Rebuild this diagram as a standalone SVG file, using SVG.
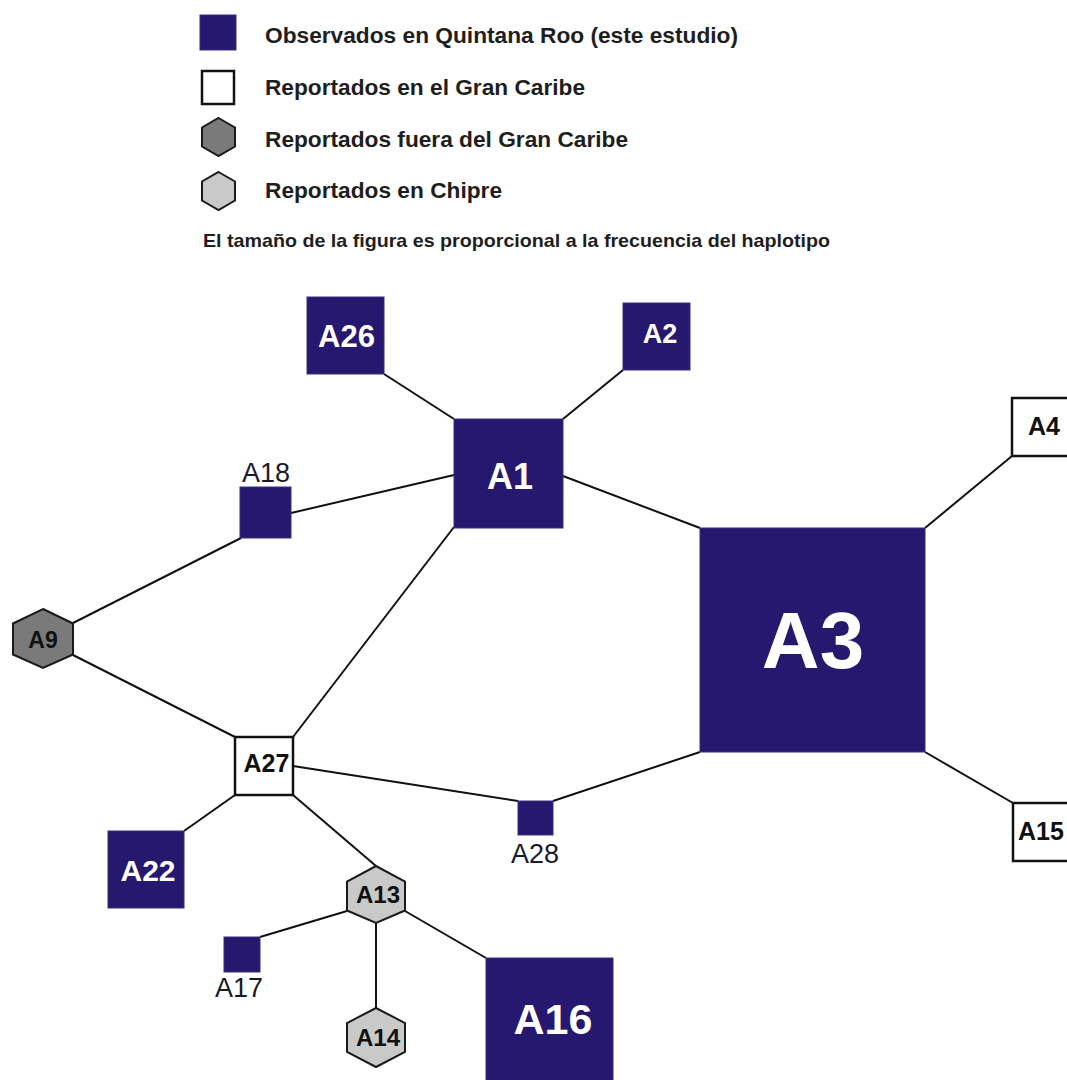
<svg xmlns="http://www.w3.org/2000/svg" width="1067" height="1080" viewBox="0 0 1067 1080">
<style>
.q{fill:#26186e;stroke:#3a2e80;stroke-width:1}
.w{fill:#fff;stroke:#111;stroke-width:2.5}
.hd{fill:#7a7a7a;stroke:#1a1a1a;stroke-width:2}
.hl{fill:#c9c9c9;stroke:#1a1a1a;stroke-width:2}
.lt{font-family:"Liberation Sans",Arial,sans-serif;font-weight:bold;fill:#1e1e1e;font-size:22px}
.tw{font-family:"Liberation Sans",Arial,sans-serif;font-weight:bold;fill:#fff;text-anchor:middle}
.tb{font-family:"Liberation Sans",Arial,sans-serif;font-weight:bold;fill:#111;text-anchor:middle}
.tr{font-family:"Liberation Sans",Arial,sans-serif;fill:#1a1a2a;text-anchor:middle;font-size:27px}
.c line{stroke:#111;stroke-width:2}
</style>
<rect width="1067" height="1080" fill="#fff"/>
<g id="legend">
<rect class="q" x="200" y="15" width="36" height="35"/>
<rect class="w" x="202" y="71" width="32" height="33"/>
<polygon class="hd" points="218.5,118 235,127.5 235,146.5 218.5,156 202,146.5 202,127.5"/>
<polygon class="hl" points="218.5,172 235,181.5 235,200.5 218.5,210 202,200.5 202,181.5"/>
<text class="lt" x="265" y="43" textLength="473" lengthAdjust="spacingAndGlyphs">Observados en Quintana Roo (este estudio)</text>
<text class="lt" x="265" y="95" textLength="320" lengthAdjust="spacingAndGlyphs">Reportados en el Gran Caribe</text>
<text class="lt" x="265" y="147" textLength="363" lengthAdjust="spacingAndGlyphs">Reportados fuera del Gran Caribe</text>
<text class="lt" x="265" y="198" textLength="237" lengthAdjust="spacingAndGlyphs">Reportados en Chipre</text>
<text class="lt" x="203" y="247" style="font-size:19px" textLength="627" lengthAdjust="spacingAndGlyphs">El tamaño de la figura es proporcional a la frecuencia del haplotipo</text>
</g>
<g class="c" id="connectors">
<line x1="384" y1="374" x2="454" y2="419"/>
<line x1="623" y1="370" x2="563" y2="419"/>
<line x1="291" y1="513" x2="454" y2="475"/>
<line x1="563" y1="476" x2="700" y2="528"/>
<line x1="454" y1="527" x2="293" y2="737"/>
<line x1="241" y1="538" x2="73" y2="623"/>
<line x1="73" y1="655" x2="235" y2="737"/>
<line x1="293" y1="766" x2="518" y2="801"/>
<line x1="553" y1="801" x2="700" y2="752"/>
<line x1="925" y1="528" x2="1012" y2="456"/>
<line x1="925" y1="752" x2="1013" y2="803"/>
<line x1="235" y1="795" x2="184" y2="831"/>
<line x1="293" y1="795" x2="376" y2="866"/>
<line x1="347" y1="911" x2="260" y2="937"/>
<line x1="405" y1="911" x2="486" y2="958"/>
<line x1="376" y1="923" x2="376" y2="1008"/>
</g>
<g id="A26"><rect class="q" x="307" y="297" width="77" height="77"/><text class="tw" x="346.5" y="347" font-size="31">A26</text></g>
<g id="A2"><rect class="q" x="623" y="303" width="67" height="67"/><text class="tw" x="660" y="343" font-size="27">A2</text></g>
<g id="A1"><rect class="q" x="454" y="419" width="109" height="109"/><text class="tw" x="510" y="489" font-size="36">A1</text></g>
<g id="A18"><rect class="q" x="240" y="487" width="51" height="51"/><text class="tr" x="266" y="482">A18</text></g>
<g id="A9"><polygon class="hd" points="43,609 73,623.5 73,654.5 43,668 13,654.5 13,623.5"/><text class="tb" x="43" y="648" font-size="23" fill="#222">A9</text></g>
<g id="A3"><rect class="q" x="700" y="528" width="225" height="224"/><text class="tw" x="813" y="668" font-size="80">A3</text></g>
<g id="A4"><rect class="w" x="1012" y="398" width="60" height="58"/><text class="tb" x="1044" y="435" font-size="25">A4</text></g>
<g id="A15"><rect class="w" x="1013" y="803" width="60" height="58"/><text class="tb" x="1041" y="840" font-size="25">A15</text></g>
<g id="A27"><rect class="w" x="235" y="737" width="58" height="58"/><text class="tb" x="266.5" y="772" font-size="25">A27</text></g>
<g id="A28"><rect class="q" x="518" y="801" width="35" height="34"/><text class="tr" x="535" y="863">A28</text></g>
<g id="A22"><rect class="q" x="108" y="831" width="76" height="77"/><text class="tw" x="148" y="881" font-size="30">A22</text></g>
<g id="A13"><polygon class="hl" points="376,866 405,881.5 405,910.5 376,923 347,910.5 347,881.5"/><text class="tb" x="378" y="903" font-size="24">A13</text></g>
<g id="A17"><rect class="q" x="224" y="937" width="36" height="35"/><text class="tr" x="239" y="997">A17</text></g>
<g id="A14"><polygon class="hl" points="376,1008 405,1023 405,1052 376,1067 347,1052 347,1023"/><text class="tb" x="378" y="1046" font-size="24">A14</text></g>
<g id="A16"><rect class="q" x="486" y="958" width="127" height="125"/><text class="tw" x="553" y="1034" font-size="43">A16</text></g>
</svg>
